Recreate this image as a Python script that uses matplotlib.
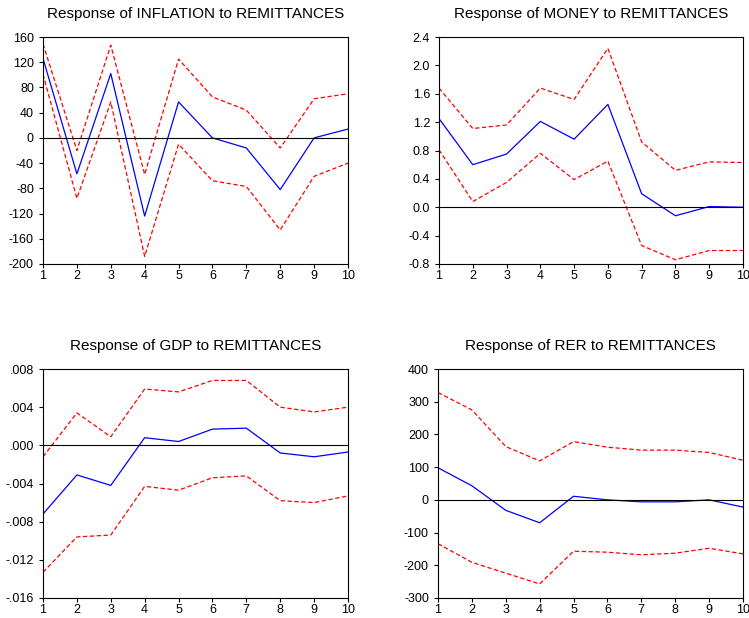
import matplotlib
matplotlib.use("Agg")
import matplotlib.pyplot as plt
from matplotlib.ticker import FuncFormatter

plt.rcParams['font.family'] = ['Liberation Sans', 'DejaVu Sans']

periods = list(range(1, 11))

# INFLATION
infl_resp = [126, -57, 102, -124, 57, 0, -16, -82, 0, 14]
infl_up = [149, -20, 147, -58, 125, 65, 44, -16, 62, 70]
infl_lo = [101, -96, 57, -188, -10, -68, -77, -146, -61, -40]

# MONEY
money_resp = [1.25, 0.60, 0.75, 1.21, 0.96, 1.45, 0.19, -0.12, 0.01, 0.0]
money_up = [1.68, 1.11, 1.16, 1.68, 1.52, 2.24, 0.92, 0.52, 0.64, 0.63]
money_lo = [0.81, 0.08, 0.35, 0.76, 0.39, 0.65, -0.54, -0.74, -0.61, -0.61]

# GDP
gdp_resp = [-0.0072, -0.0031, -0.0042, 0.0008, 0.0004, 0.0017, 0.0018, -0.0008, -0.0012, -0.0007]
gdp_up = [-0.0012, 0.0034, 0.0009, 0.0059, 0.0056, 0.0068, 0.0068, 0.0040, 0.0035, 0.0040]
gdp_lo = [-0.0133, -0.0096, -0.0094, -0.0043, -0.0047, -0.0034, -0.0032, -0.0058, -0.0060, -0.0053]

# RER
rer_resp = [98, 43, -32, -70, 11, 0, -6, -6, 0, -22]
rer_up = [328, 275, 163, 119, 178, 161, 152, 152, 145, 121]
rer_lo = [-134, -191, -224, -257, -157, -160, -168, -163, -148, -165]

W, H = 749, 618
fig = plt.figure(figsize=(W / 100, H / 100), dpi=100)


def make_ax(x0, y0, x1, y1):
    return fig.add_axes([x0 / W, 1 - y1 / H, (x1 - x0) / W, (y1 - y0) / H])


def draw_panel(ax, title, resp, up, lo, ymin, ymax, step, fmt):
    ax.plot(periods, up, color='red', ls=(0, (3.5, 2)), lw=0.9)
    ax.plot(periods, lo, color='red', ls=(0, (3.5, 2)), lw=0.9)
    ax.plot(periods, resp, color='blue', lw=0.9)
    ax.axhline(0, color='black', lw=0.8)
    ax.set_xlim(1, 10)
    ax.set_ylim(ymin, ymax)
    n = int(round((ymax - ymin) / step))
    ax.set_yticks([ymin + i * step for i in range(n + 1)])
    ax.set_xticks(periods)
    ax.yaxis.set_major_formatter(FuncFormatter(fmt))
    ax.tick_params(direction='out', length=3, width=0.8, labelsize=9)
    ax.tick_params(axis='y', pad=3.5)
    ax.tick_params(axis='x', pad=1.5)
    for s in ax.spines.values():
        s.set_linewidth(0.8)
    ax.set_title(title, fontsize=11, pad=14)


def fmt_int(v, p):
    return '%d' % round(v)


def fmt_one(v, p):
    return '%.1f' % (0.0 if abs(v) < 1e-9 else v)


def fmt_gdp(v, p):
    s = '%.3f' % (0.0 if abs(v) < 1e-12 else v)
    return s.replace('0.', '.', 1)


ax1 = make_ax(43, 37, 348, 264)
draw_panel(ax1, 'Response of INFLATION to REMITTANCES', infl_resp, infl_up, infl_lo,
           -200, 160, 40, fmt_int)

ax2 = make_ax(439, 37, 743, 264)
draw_panel(ax2, 'Response of MONEY to REMITTANCES', money_resp, money_up, money_lo,
           -0.8, 2.4, 0.4, fmt_one)

ax3 = make_ax(43, 369, 348, 598)
draw_panel(ax3, 'Response of GDP to REMITTANCES', gdp_resp, gdp_up, gdp_lo,
           -0.016, 0.008, 0.004, fmt_gdp)

ax4 = make_ax(438, 369, 743, 598)
draw_panel(ax4, 'Response of RER to REMITTANCES', rer_resp, rer_up, rer_lo,
           -300, 400, 100, fmt_int)

fig.savefig('out.png', dpi=100)
